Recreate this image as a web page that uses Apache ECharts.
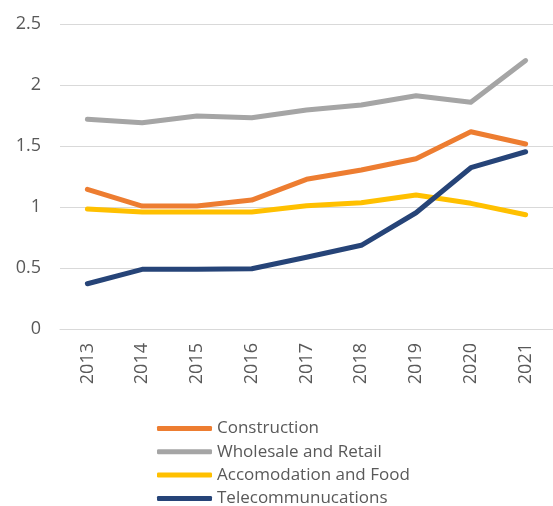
<!DOCTYPE html>
<html><head><meta charset="utf-8">
<script src="https://cdn.jsdelivr.net/npm/echarts@6/dist/echarts.min.js"></script>
<style>html,body{margin:0;padding:0;background:#fff}#c{width:553px;height:506px}</style>
</head><body><div id="c"></div>
<script>
const years = ['2013','2014','2015','2016','2017','2018','2019','2020','2021'];
const construction = [1.145, 1.008, 1.008, 1.057, 1.227, 1.303, 1.396, 1.617, 1.516];
const wholesale = [1.719, 1.69, 1.746, 1.732, 1.795, 1.836, 1.912, 1.858, 2.20];
const accommodation = [0.984, 0.959, 0.959, 0.959, 1.011, 1.035, 1.098, 1.03, 0.937];
const telecom = [0.371, 0.489, 0.489, 0.494, 0.588, 0.686, 0.953, 1.322, 1.453];
const yTicks = [0, 0.5, 1, 1.5, 2, 2.5];

const names = ['Construction','Wholesale and Retail','Accomodation and Food','Telecommunucations'];
const colors = ['#ED7D31','#A5A5A5','#FFC000','#264478'];
const datas = [construction, wholesale, accommodation, telecom];
const font = '"Open Sans", sans-serif';

const chart = echarts.init(document.getElementById('c'));
chart.setOption({
  animation: false,
  grid: { left: 60, right: -10, top: 24, bottom: 177, containLabel: false },
  xAxis: {
    type: 'category', data: years, boundaryGap: true,
    axisLine: { show: true, lineStyle: { color: '#D9D9D9', width: 1 } },
    axisTick: { show: false },
    axisLabel: { rotate: 90, margin: 14, color: '#595959', fontSize: 18, fontFamily: font }
  },
  yAxis: {
    type: 'value', min: yTicks[0], max: yTicks[yTicks.length-1], interval: 0.5,
    axisLine: { show: false }, axisTick: { show: false },
    splitLine: { lineStyle: { color: '#D9D9D9', width: 1 } },
    axisLabel: { margin: 19, color: '#595959', fontSize: 18, fontFamily: font }
  },
  legend: {
    orient: 'vertical', left: 157, top: 420, height: 150, padding: 0,
    itemWidth: 55, itemHeight: 5, itemGap: 6.3,
    icon: 'roundRect',
    textStyle: { color: '#595959', fontSize: 17, fontFamily: font, lineHeight: 16 },
    data: names
  },
  series: names.map((n, i) => ({
    name: n, type: 'line', data: datas[i], symbol: 'none',
    lineStyle: { color: colors[i], width: 5, cap: 'round', join: 'round' },
    itemStyle: { color: colors[i] }
  }))
});
</script></body></html>
